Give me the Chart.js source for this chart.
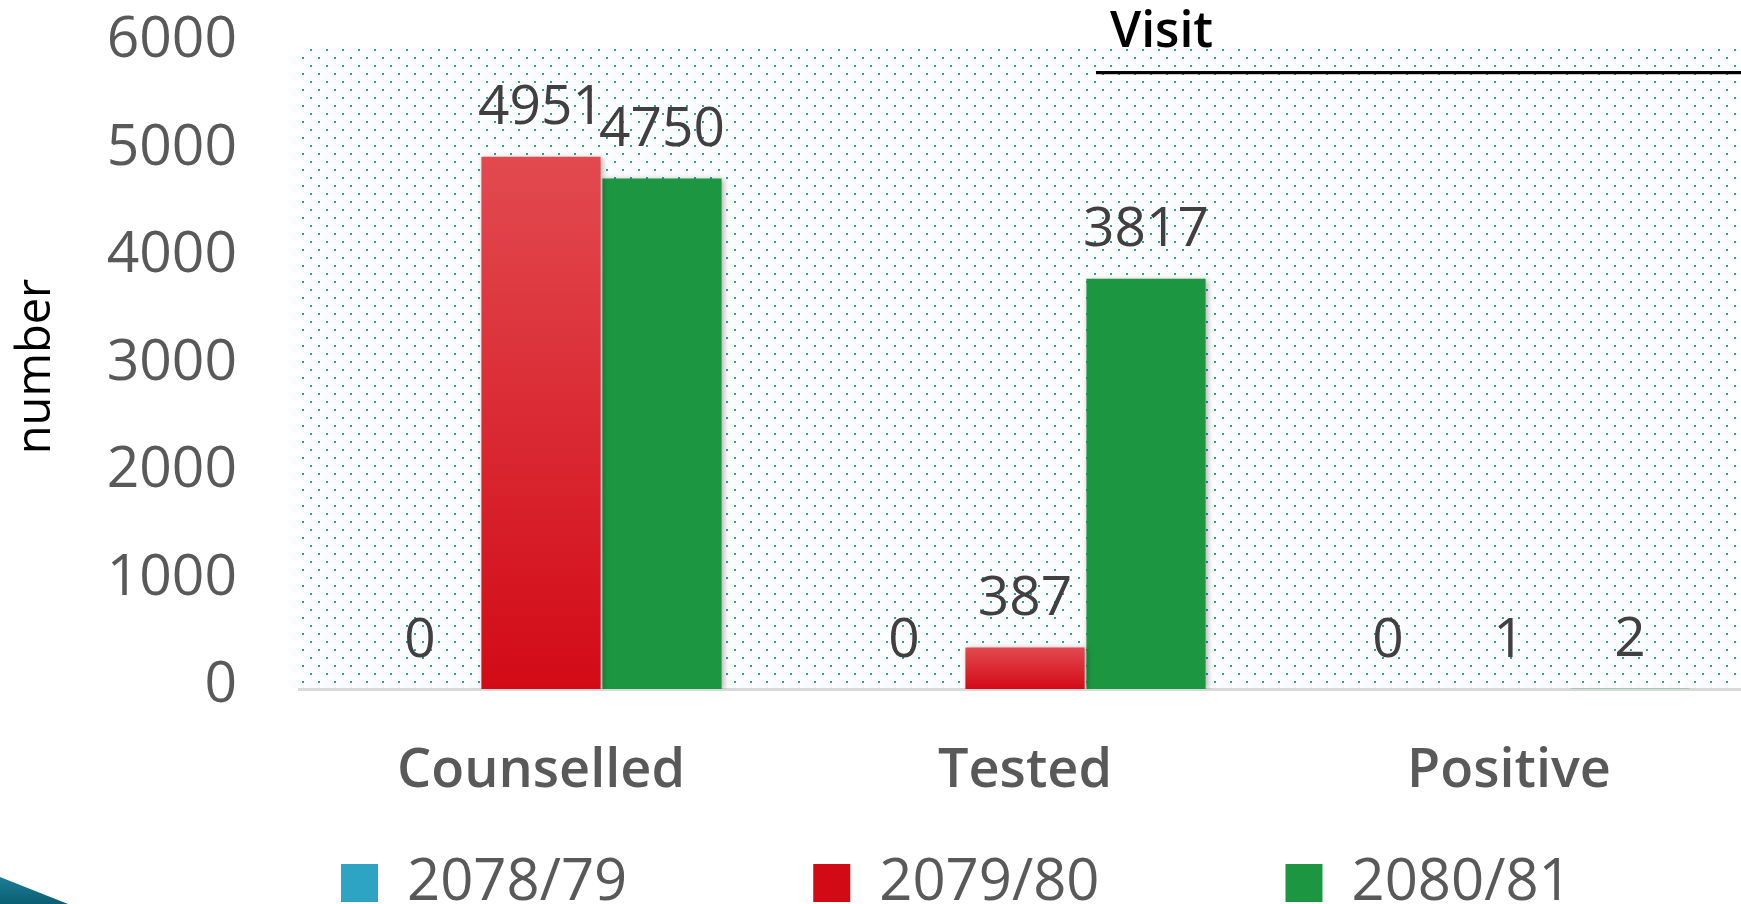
<!DOCTYPE html>
<html lang="en">

<head>
  <meta charset="UTF-8">
  <title>Visit</title>
  <script src="https://cdn.jsdelivr.net/npm/chart.js"></script>
  <style>
    body {
      margin: 0;
      width: 1741px;
      height: 904px;
      overflow: hidden;
      position: relative;
      background: #fff;
      font-family: 'Open Sans', sans-serif;
    }

    .chart-container {
      position: absolute;
      left: 0;
      top: 0;
      width: 1800px;
      height: 1043px;
    }

    .slide-title {
      position: absolute;
      left: 1110px;
      top: 3px;
      font-size: 50px;
      font-weight: 600;
      line-height: 1;
      color: #000;
      z-index: 2;
    }

    .title-rule {
      position: absolute;
      left: 1096px;
      top: 71px;
      width: 700px;
      height: 3px;
      background: #000;
      box-shadow: 0 1px 1px rgba(0, 0, 0, 0.25);
      z-index: 2;
    }

    .swoosh {
      position: absolute;
      left: 0;
      top: 877px;
      width: 68px;
      height: 27px;
      background: linear-gradient(180deg, #1a7f96, #0b5d73);
      clip-path: polygon(0 0, 100% 100%, 0 100%);
      z-index: 2;
    }
  </style>
</head>

<body>
  <div class="slide-title">Visit</div>
  <div class="title-rule"></div>
  <div class="swoosh"></div>
  <div class="chart-container">
    <canvas id="visitChart"></canvas>
  </div>

  <script>
    const categories = ['Counselled', 'Tested', 'Positive'];
    const seriesNames = ['2078/79', '2079/80', '2080/81'];
    const fy7879 = [0, 0, 0];
    const fy7980 = [4951, 387, 1];
    const fy8081 = [4750, 3817, 2];
    const yMin = 0;
    const yMax = 6000;
    const yStep = 1000;

    // legend spacing
    const legendPad = 186;

    // gradient fill from the top of each bar to its base
    function barFill(topCol, bottomCol, midCol) {
      return function (ctx) {
        const chart = ctx.chart;
        if (ctx.type !== 'data' || !chart.scales.y) return midCol;
        const y = chart.scales.y;
        const y1 = y.getPixelForValue(ctx.raw);
        const y0 = y.getPixelForValue(0);
        if (!isFinite(y0) || !isFinite(y1) || y0 - y1 < 1) return midCol;
        const g = chart.ctx.createLinearGradient(0, y1, 0, y0);
        g.addColorStop(0, topCol);
        g.addColorStop(1, bottomCol);
        return g;
      };
    }

    // dotted plot background
    const dots = {
      id: 'dots',
      beforeDraw(chart) {
        const a = chart.chartArea;
        const tile = document.createElement('canvas');
        tile.width = 16;
        tile.height = 16;
        const t = tile.getContext('2d');
        t.fillStyle = '#1f9fba';
        t.fillRect(6, 1, 2, 2);
        t.fillRect(14, 9, 2, 2);
        const ctx = chart.ctx;
        ctx.save();
        ctx.fillStyle = ctx.createPattern(tile, 'repeat');
        ctx.fillRect(a.left, a.top + 4, a.right - a.left, a.bottom - a.top - 4);
        ctx.restore();
      }
    };

    // soft shadow behind bars
    const barShadow = {
      id: 'barShadow',
      beforeDatasetDraw(chart) {
        const ctx = chart.ctx;
        ctx.save();
        ctx.shadowColor = 'rgba(0,0,0,0.3)';
        ctx.shadowBlur = 6;
        ctx.shadowOffsetX = 2;
        ctx.shadowOffsetY = 1;
      },
      afterDatasetDraw(chart) {
        chart.ctx.restore();
      }
    };

    // value labels above bars
    const valueLabels = {
      id: 'valueLabels',
      afterDatasetsDraw(chart) {
        const ctx = chart.ctx;
        ctx.save();
        ctx.font = '500 55px "Open Sans"';
        ctx.fillStyle = '#404040';
        ctx.textAlign = 'center';
        ctx.textBaseline = 'middle';
        chart.data.datasets.forEach(function (ds, i) {
          chart.getDatasetMeta(i).data.forEach(function (bar, j) {
            ctx.fillText(String(ds.data[j]), bar.x, bar.y - 48);
          });
        });
        ctx.restore();
      }
    };

    // put the legend row where it sits on the slide
    const legendPlace = {
      id: 'legendPlace',
      afterLayout(chart) {
        const lg = chart.legend;
        const w = lg.right - lg.left;
        const h = lg.bottom - lg.top;
        lg.left = 341 - legendPad;
        lg.right = lg.left + w;
        lg.top = 883 - 29 - legendPad;
        lg.bottom = lg.top + h;
      }
    };

    const ctx = document.getElementById('visitChart').getContext('2d');
    new Chart(ctx, {
      type: 'bar',
      data: {
        labels: categories,
        datasets: [{
          label: seriesNames[0],
          data: fy7879,
          backgroundColor: barFill('#5ab5d0', '#1a94b6', '#2ea4c4')
        }, {
          label: seriesNames[1],
          data: fy7980,
          backgroundColor: barFill('#e24a50', '#d20a16', '#dc2730')
        }, {
          label: seriesNames[2],
          data: fy8081,
          backgroundColor: '#1c9641'
        }]
      },
      options: {
        responsive: true,
        maintainAspectRatio: false,
        animation: false,
        categoryPercentage: 0.75,
        barPercentage: 0.985,
        layout: {
          padding: { top: 44, right: 49, bottom: 0, left: 0 }
        },
        plugins: {
          tooltip: { enabled: false },
          legend: {
            position: 'bottom',
            align: 'start',
            labels: {
              boxWidth: 37,
              boxHeight: 38,
              padding: legendPad,
              color: '#595959',
              font: { family: 'Open Sans', size: 58, weight: '500' }
            }
          }
        },
        scales: {
          x: {
            grid: { display: false, drawTicks: false },
            border: { display: true, color: '#d9d9d9', width: 3 },
            ticks: {
              padding: 50,
              color: '#595959',
              font: { family: 'Open Sans', size: 54, weight: '600' }
            },
            afterFit(s) {
              s.height = 100;
              s.paddingLeft = 0;
              s.paddingRight = 0;
            }
          },
          y: {
            min: yMin,
            max: yMax,
            grid: { display: false, drawTicks: false },
            border: { display: false },
            ticks: {
              stepSize: yStep,
              padding: 62,
              labelOffset: -3,
              color: '#595959',
              font: { family: 'Open Sans', size: 57, weight: '500' },
              callback: (v) => String(v)
            },
            title: {
              display: true,
              text: 'number',
              color: '#000',
              padding: { top: 8, bottom: 0 },
              font: { family: 'Open Sans', size: 47 }
            },
            afterFit(s) {
              s.width = 299;
              s.paddingTop = 0;
              s.paddingBottom = 0;
            }
          }
        }
      },
      plugins: [dots, barShadow, valueLabels, legendPlace]
    });
  </script>
</body>

</html>
